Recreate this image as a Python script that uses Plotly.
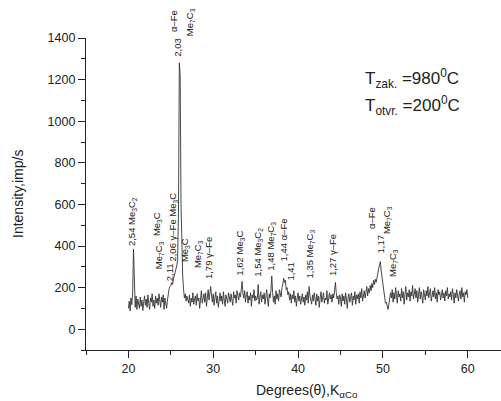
import numpy as np
import plotly.graph_objects as go

# Diffraction scan: intensity (imp/s) sampled every 0.1 degree from 20.0 to 60.0
start_deg = 20.0
step_deg = 0.1
intensity = [
    100, 135, 88, 150, 118, 175, 385, 190, 105, 160,      # 20
    95, 145, 120, 100, 155, 110, 140, 90, 130, 160,       # 21
    115, 145, 105, 165, 125, 95, 150, 130, 170, 110,      # 22
    140, 100, 160, 125, 150, 115, 170, 135, 105, 155,     # 23
    130, 165, 95, 150, 120, 100, 140, 180, 195, 205,      # 24
    210, 225, 215, 240, 255, 270, 290, 305, 330, 560,     # 25
    1280, 1220, 600, 300, 255, 190, 150, 170, 135, 160,   # 26
    140, 125, 165, 110, 150, 130, 175, 120, 145, 160,     # 27
    115, 170, 135, 150, 100, 160, 185, 125, 150, 170,     # 28
    130, 175, 110, 165, 190, 140, 175, 205, 160, 130,     # 29
    170, 115, 150, 180, 125, 160, 105, 145, 175, 135,     # 30
    160, 120, 180, 140, 110, 165, 150, 125, 175, 155,     # 31
    130, 170, 145, 115, 180, 150, 165, 125, 185, 160,     # 32
    140, 175, 155, 190, 230, 170, 150, 185, 130, 165,     # 33
    180, 125, 160, 140, 175, 110, 165, 150, 190, 135,     # 34
    160, 140, 150, 215, 120, 155, 180, 130, 165, 145,     # 35
    175, 120, 160, 190, 140, 110, 170, 150, 185, 255,     # 36
    175, 130, 160, 120, 185, 145, 170, 135, 190, 175,     # 37
    155, 200, 215, 245, 225, 235, 190, 200, 165, 180,     # 38
    140, 170, 125, 165, 145, 185, 130, 160, 110, 150,     # 39
    175, 135, 160, 120, 150, 170, 130, 155, 115, 165,     # 40
    140, 180, 125, 205, 160, 145, 120, 165, 135, 175,     # 41
    150, 115, 170, 135, 160, 105, 150, 180, 130, 160,     # 42
    175, 125, 150, 140, 185, 120, 160, 175, 145, 165,     # 43
    130, 170, 150, 190, 225, 175, 145, 160, 120, 165,     # 44
    150, 110, 170, 135, 160, 120, 175, 145, 100, 155,     # 45
    170, 130, 155, 175, 115, 160, 140, 180, 120, 165,     # 46
    145, 170, 125, 180, 150, 195, 135, 170, 185, 150,     # 47
    180, 205, 160, 195, 175, 210, 185, 220, 200, 235,     # 48
    215, 240, 225, 255, 270, 290, 310, 325, 280, 250,     # 49
    220, 190, 160, 125, 130, 100, 95, 120, 150, 175,      # 50
    150, 190, 130, 175, 145, 200, 160, 125, 185, 155,     # 51
    170, 135, 195, 150, 180, 120, 165, 205, 140, 175,     # 52
    155, 190, 135, 180, 160, 210, 145, 175, 195, 150,     # 53
    185, 130, 170, 200, 145, 180, 160, 125, 190, 165,     # 54
    140, 185, 160, 205, 150, 175, 195, 135, 170, 185,     # 55
    155, 200, 145, 175, 130, 190, 165, 180, 140, 170,     # 56
    190, 150, 175, 135, 185, 160, 200, 145, 170, 155,     # 57
    180, 140, 195, 165, 125, 175, 150, 190, 160, 135,     # 58
    170, 185, 145, 200, 155, 175, 130, 180, 165, 190,     # 59
    150,                                                  # 60
]
angle = np.round(start_deg + step_deg * np.arange(len(intensity)), 1)

# Phase identification texts (d-spacing, phase)
phase_texts = [
    "2,54 Me<sub>3</sub>C<sub>2</sub>",
    "Me<sub>3</sub>C",
    "Me<sub>7</sub>C<sub>3</sub>",
    "2,11",
    "2,06 γ–Fe Me<sub>3</sub>C",
    "2,03",
    "α–Fe",
    "Me<sub>7</sub>C<sub>3</sub>",
    "Me<sub>3</sub>C",
    "Me<sub>7</sub>C<sub>3</sub>",
    "1,79 γ–Fe",
    "1,62 Me<sub>3</sub>C",
    "1,54 Me<sub>3</sub>C<sub>2</sub>",
    "1,48 Me<sub>7</sub>C<sub>3</sub>",
    "1,44 α–Fe",
    "1,41",
    "1,35 Me<sub>7</sub>C<sub>3</sub>",
    "1,27 γ–Fe",
    "α–Fe",
    "1,17",
    "Me<sub>7</sub>C<sub>3</sub>",
    "Me<sub>7</sub>C<sub>3</sub>",
]
# anchor (angle, intensity) of the lower end of each vertical label
phase_anchor = [
    (20.51, 396), (23.40, 444), (23.63, 285), (24.93, 227), (25.28, 319),
    (25.75, 1304), (25.40, 1425), (27.28, 1405), (26.70, 319), (28.23, 290),
    (29.52, 237), (33.17, 251), (35.18, 246), (36.71, 275), (38.24, 319),
    (39.06, 227), (41.42, 237), (44.13, 251), (48.72, 477), (49.66, 357),
    (50.49, 453), (51.20, 247),
]

Y_MIN, Y_MAX = -100, 1400
PLOT_H = 401 - 38 - 51
PX_PER_UNIT = PLOT_H / (Y_MAX - Y_MIN)

FONT = "Liberation Sans, Arial, sans-serif"
INK = "#222222"

fig = go.Figure()
fig.add_trace(go.Scatter(
    x=angle, y=intensity, mode="lines",
    line=dict(color="#333333", width=0.9),
    showlegend=False, hoverinfo="skip",
))

annotations = []
for (ax, ay), txt in zip(phase_anchor, phase_texts):
    # labels whose foot lies above the axis top are anchored at the top edge
    # and lifted by the equivalent pixel offset (plotly hides off-range anchors)
    shift = 0
    if ay > Y_MAX - 50:
        shift = (ay - (Y_MAX - 50)) * PX_PER_UNIT
        ay = Y_MAX - 50
    annotations.append(dict(
        x=ax, y=ay, xref="x", yref="y", text=txt, textangle=-90,
        showarrow=False, xanchor="center", yanchor="bottom", yshift=shift,
        font=dict(family=FONT, size=9.5, color=INK), borderpad=0,
    ))

# axis titles
annotations.append(dict(
    x=0, y=0.5, xref="paper", yref="paper", xshift=-68,
    text="Intensity,imp/s", textangle=-90, showarrow=False,
    xanchor="center", yanchor="middle",
    font=dict(family=FONT, size=14, color=INK),
))
annotations.append(dict(
    x=41.0, y=0, xref="x", yref="paper", yshift=-30,
    text="Degrees(θ),K<sub>αCo</sub>", showarrow=False,
    xanchor="center", yanchor="top",
    font=dict(family=FONT, size=14, color=INK),
))

# heat-treatment temperatures
annotations.append(dict(
    x=0.668, y=0.869, xref="paper", yref="paper",
    text="T<sub>zak.</sub> =980<sup>0</sup>C", showarrow=False,
    xanchor="left", yanchor="middle",
    font=dict(family=FONT, size=17, color=INK),
))
annotations.append(dict(
    x=0.668, y=0.785, xref="paper", yref="paper",
    text="T<sub>otvr.</sub> =200<sup>0</sup>C", showarrow=False,
    xanchor="left", yanchor="middle",
    font=dict(family=FONT, size=17, color=INK),
))

axis_common = dict(
    showline=True, linecolor=INK, linewidth=1.3,
    showgrid=False, zeroline=False,
    ticks="outside", ticklen=7, tickwidth=1.2, tickcolor=INK,
    tickfont=dict(family=FONT, size=12.5, color=INK),
)

fig.update_layout(
    width=501, height=401,
    margin=dict(l=86, r=0, t=38, b=51),
    paper_bgcolor="white", plot_bgcolor="white",
    xaxis=dict(
        range=[15, 63.92], tick0=0, dtick=10,
        minor=dict(tick0=15, dtick=5, ticks="outside", ticklen=4,
                   tickwidth=1.2, tickcolor=INK, showgrid=False),
        **axis_common,
    ),
    yaxis=dict(
        range=[Y_MIN, Y_MAX], tick0=0, dtick=200,
        minor=dict(tick0=0, dtick=100, ticks="outside", ticklen=4,
                   tickwidth=1.2, tickcolor=INK, showgrid=False),
        **axis_common,
    ),
    annotations=annotations,
)

fig.write_html("out.html")
